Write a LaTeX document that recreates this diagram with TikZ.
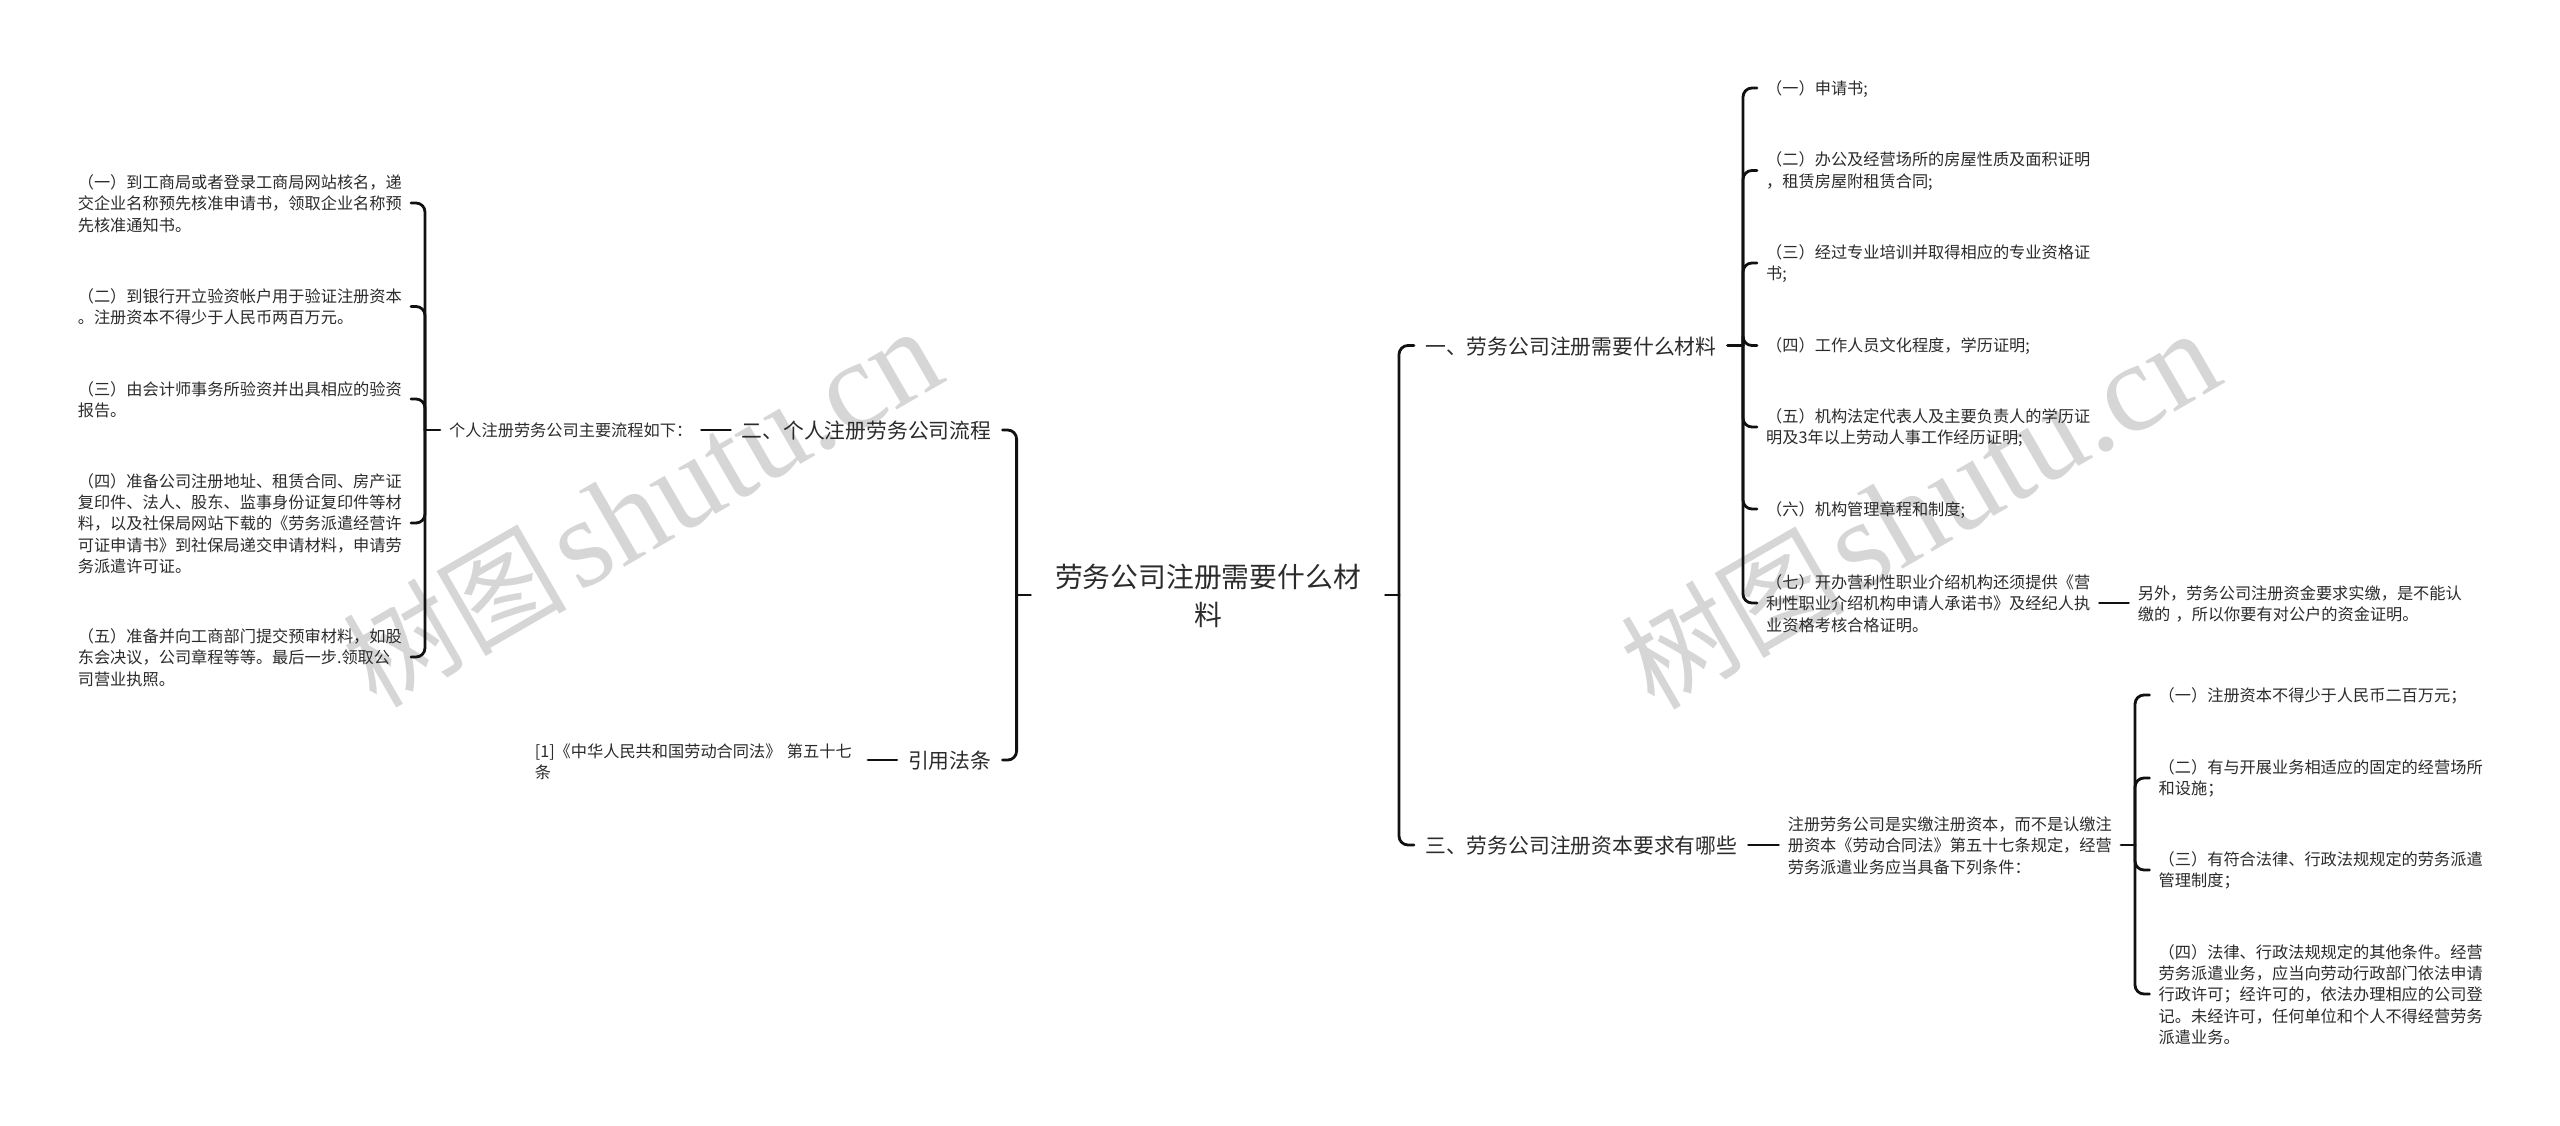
\documentclass[tikz,border=0pt]{standalone}
\usepackage{fontspec}
\setmainfont{Noto Sans CJK SC}
\newfontfamily\wmlatin{Liberation Serif}
\newfontfamily\wmcjk{Noto Sans CJK SC}
\newcommand\tstrut{\rule[-0.11em]{0pt}{1.05em}}
\newcommand\wmtext{{\fontsize{112pt}{112pt}\selectfont\wmcjk 树图}\hspace{10pt}{\fontsize{127pt}{127pt}\selectfont\wmlatin shutu.cn}}
\definecolor{inkc}{HTML}{2B2B2B}
\definecolor{wmc}{HTML}{D6D6D6}
\definecolor{linec}{HTML}{111111}
\tikzset{
  txt/.style={inner ysep=0pt,text=inkc,execute at begin node=\tstrut,execute at end node=\tstrut},
  leaf/.style={txt,inner xsep=9pt,text width=324pt,align=left,font=\fontsize{16.2pt}{21.3pt}\selectfont},
  branch/.style={txt,inner xsep=11pt,font=\fontsize{20.8pt}{26pt}\selectfont},
  rootnode/.style={txt,inner xsep=0pt,text width=354.4pt,align=center,font=\fontsize{27.8pt}{38pt}\selectfont},
  conn/.style={draw=linec,line width=2.8pt,rounded corners=9pt,line cap=round},
  wm/.style={text=wmc,rotate=30,anchor=base,inner sep=0pt}
}
\begin{document}
\begin{tikzpicture}[x=1pt,y=-1pt]
\fill[white] (0,0) rectangle (2560,1125);
\useasboundingbox (0,0) rectangle (2560,1125);
% watermarks
\node[wm] (wmA) at (663,544.5) {\wmtext};
\node[wm] (wmB) at (1941,546.5) {\wmtext};
% hubs
\coordinate (hubM) at (1016.6,595);
\coordinate (hubR) at (1399,595);
\coordinate (hubP) at (425,430);
\coordinate (hubA) at (1743,345.5);
\coordinate (hubC) at (2135,845);
% root
\node[rootnode] (root) at (1208,595) {劳务公司注册需要什么材\\料};
% left
\node[branch,anchor=east] (proc) at (1002.5,430) {二、个人注册劳务公司流程};
\node[branch,anchor=east] (cite) at (1002.5,760) {引用法条};
\node[leaf,anchor=east] (law) at (868,761) {[1]《中华人民共和国劳动合同法》 第五十七\\条};
\node[leaf,anchor=west,text width=243pt] (intro) at (440,430) {个人注册劳务公司主要流程如下：};
\node[leaf,anchor=east] (p1) at (411,203) {（一）到工商局或者登录工商局网站核名，递\\交企业名称预先核准申请书，领取企业名称预\\先核准通知书。};
\node[leaf,anchor=east] (p2) at (411,306.5) {（二）到银行开立验资帐户用于验证注册资本\\。注册资本不得少于人民币两百万元。};
\node[leaf,anchor=east] (p3) at (411,399) {（三）由会计师事务所验资并出具相应的验资\\报告。};
\node[leaf,anchor=east] (p4) at (411,523) {（四）准备公司注册地址、租赁合同、房产证\\复印件、法人、股东、监事身份证复印件等材\\料，以及社保局网站下载的《劳务派遣经营许\\可证申请书》到社保局递交申请材料，申请劳\\务派遣许可证。};
\node[leaf,anchor=east] (p5) at (411,657) {（五）准备并向工商部门提交预审材料，如股\\东会决议，公司章程等等。最后一步.领取公\\司营业执照。};
% right upper
\node[branch,anchor=west] (matl) at (1414,345.5) {一、劳务公司注册需要什么材料};
\node[leaf,anchor=west] (a1) at (1757,88) {（一）申请书;};
\node[leaf,anchor=west] (a2) at (1757,170.5) {（二）办公及经营场所的房屋性质及面积证明\\，租赁房屋附租赁合同;};
\node[leaf,anchor=west] (a3) at (1757,263) {（三）经过专业培训并取得相应的专业资格证\\书;};
\node[leaf,anchor=west] (a4) at (1757,345.5) {（四）工作人员文化程度，学历证明;};
\node[leaf,anchor=west] (a5) at (1757,427) {（五）机构法定代表人及主要负责人的学历证\\明及3年以上劳动人事工作经历证明;};
\node[leaf,anchor=west] (a6) at (1757,509) {（六）机构管理章程和制度;};
\node[leaf,anchor=west] (a7) at (1757,603) {（七）开办营利性职业介绍机构还须提供《营\\利性职业介绍机构申请人承诺书》及经纪人执\\业资格考核合格证明。};
\node[leaf,anchor=west] (a8) at (2128.6,603) {另外，劳务公司注册资金要求实缴，是不能认\\缴的 ，所以你要有对公户的资金证明。};
% right lower
\node[branch,anchor=west] (capi) at (1414,845) {三、劳务公司注册资本要求有哪些};
\node[leaf,anchor=west] (cintro) at (1778.6,845) {注册劳务公司是实缴注册资本，而不是认缴注\\册资本《劳动合同法》第五十七条规定，经营\\劳务派遣业务应当具备下列条件：};
\node[leaf,anchor=west] (c1) at (2149.5,695) {（一）注册资本不得少于人民币二百万元；};
\node[leaf,anchor=west] (c2) at (2149.5,778) {（二）有与开展业务相适应的固定的经营场所\\和设施；};
\node[leaf,anchor=west] (c3) at (2149.5,870) {（三）有符合法律、行政法规规定的劳务派遣\\管理制度；};
\node[leaf,anchor=west] (c4) at (2149.5,994) {（四）法律、行政法规规定的其他条件。经营\\劳务派遣业务，应当向劳动行政部门依法申请\\行政许可；经许可的，依法办理相应的公司登\\记。未经许可，任何单位和个人不得经营劳务\\派遣业务。};
% connectors
\draw[conn] (root.west) -- (hubM);
\draw[conn] (proc.east) -| (hubM);
\draw[conn] (cite.east) -| (hubM);
\draw[conn] (root.east) -- (hubR);
\draw[conn] (matl.west) -| (hubR);
\draw[conn] (capi.west) -| (hubR);
\draw[conn] (proc.west) -- (intro.east);
\draw[conn] (cite.west) -- (cite.west -| law.east);
\draw[conn] (intro.west) -- (hubP);
\foreach \n in {p1,p2,p3,p4,p5} \draw[conn] (\n.east) -| (hubP);
\draw[conn] (matl.east) -- (hubA);
\foreach \n in {a1,a2,a3,a4,a5,a6,a7} \draw[conn] (\n.west) -| (hubA);
\draw[conn] (a7.east) -- (a8.west);
\draw[conn] (capi.east) -- (cintro.west);
\draw[conn] (cintro.east) -- (hubC);
\foreach \n in {c1,c2,c3,c4} \draw[conn] (\n.west) -| (hubC);
\end{tikzpicture}
\end{document}
